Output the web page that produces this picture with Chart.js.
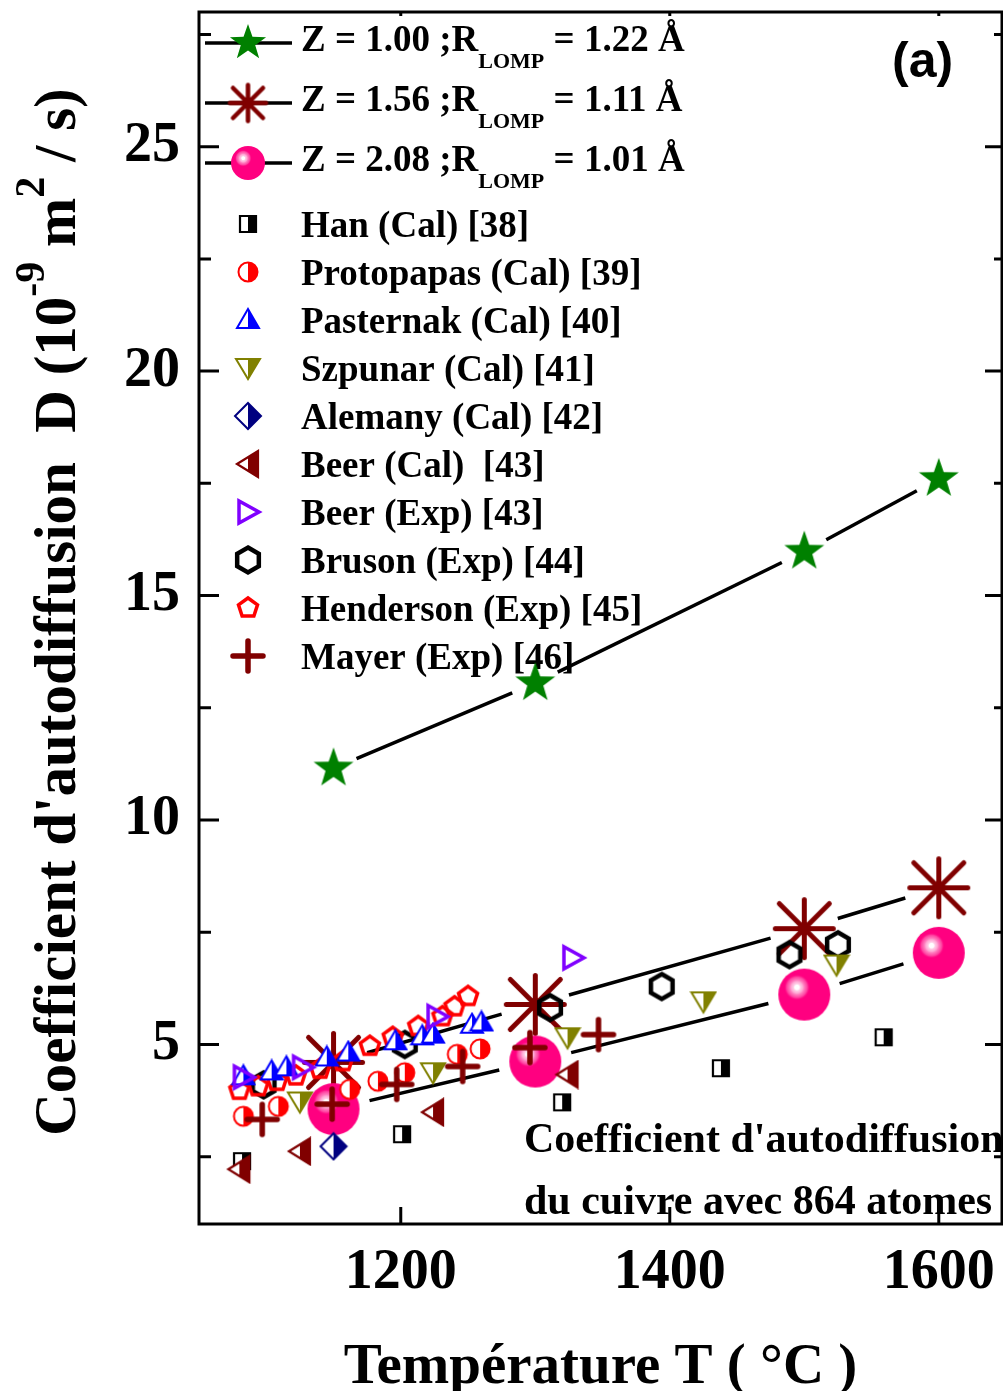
<!DOCTYPE html>
<html>
<head>
<meta charset="utf-8">
<script src="https://cdn.jsdelivr.net/npm/chart.js@4.4.0/dist/chart.umd.min.js"></script>
<style>
  html, body { margin: 0; padding: 0; background: #fff; overflow: hidden; }
  #wrap { width: 1003px; height: 1391px; }
</style>
</head>
<body>
<div id="wrap"><canvas id="diffChart" width="1003" height="1391"></canvas></div>
<script>
// axes
const xTicks = [1200, 1400, 1600];
const yTicks = [5, 10, 15, 20, 25];
const yMinorTicks = [2.5, 7.5, 12.5, 17.5, 22.5, 27.5];

// simulation (T in °C, D in 1e-9 m2/s)
const simT = [1150, 1300, 1500, 1600];
const dZ100 = [11.15, 13.05, 15.98, 17.6];
const dZ156 = [4.6, 5.89, 7.58, 8.49];
const dZ208 = [3.56, 4.62, 6.11, 7.04];
const zLabels = ['1.00', '1.56', '2.08'];
const rLabels = ['1.22', '1.11', '1.01'];

// literature
const hanT = [1082, 1201, 1320, 1438, 1559];
const hanD = [2.4, 3.0, 3.71, 4.47, 5.16];
const protoT = [1083, 1109, 1162, 1183, 1203, 1242, 1259];
const protoD = [3.4, 3.62, 4.0, 4.18, 4.37, 4.78, 4.9];
const pastT = [1083, 1104, 1115, 1145, 1161, 1196, 1216, 1224, 1253, 1260];
const pastD = [4.29, 4.4, 4.49, 4.71, 4.82, 5.07, 5.18, 5.22, 5.44, 5.49];
const szpT = [1125, 1224, 1324, 1425, 1524];
const szpD = [3.73, 4.38, 5.16, 5.96, 6.78];
const alemT = [1150];
const alemD = [2.73];
const beerCalT = [1080, 1125, 1224, 1324];
const beerCalD = [2.22, 2.62, 3.49, 4.33];
const beerExpT = [1083, 1127, 1227, 1328];
const beerExpD = [4.27, 4.49, 5.62, 6.93];
const brusT = [1098, 1203, 1311, 1394, 1489, 1525];
const brusD = [4.1, 5.0, 5.82, 6.29, 7.0, 7.22];
const hendT = [1080, 1094, 1108, 1122, 1140, 1157, 1177, 1194, 1213, 1231, 1240, 1250];
const hendD = [3.98, 4.06, 4.18, 4.3, 4.45, 4.62, 4.96, 5.16, 5.4, 5.62, 5.84, 6.07];
const mayerT = [1097, 1149, 1197, 1246, 1296, 1347];
const mayerD = [3.33, 3.67, 4.11, 4.51, 4.93, 5.22];

const refLabels = [
  'Han (Cal) [38]', 'Protopapas (Cal) [39]', 'Pasternak (Cal) [40]', 'Szpunar (Cal) [41]',
  'Alemany (Cal) [42]', 'Beer (Cal)  [43]', 'Beer (Exp) [43]', 'Bruson (Exp) [44]',
  'Henderson (Exp) [45]', 'Mayer (Exp) [46]'
];

const SERIF = '"Liberation Serif", "Times New Roman", serif';

// ---- marker images ----
function makeCanvas(w, h, draw) {
  const c = document.createElement('canvas');
  c.width = w; c.height = h;
  const g = c.getContext('2d');
  g.translate(w / 2, h / 2);
  draw(g);
  return c;
}

function poly(pts) {
  return g => {
    g.beginPath();
    pts.forEach((p, i) => i ? g.lineTo(p[0], p[1]) : g.moveTo(p[0], p[1]));
    g.closePath();
  };
}

function halfMarker(size, color, path, lw) {
  return makeCanvas(size, size, g => {
    path(g); g.fillStyle = '#fff'; g.fill();
    g.save();
    g.beginPath(); g.rect(0, -size / 2, size / 2, size); g.clip();
    path(g); g.fillStyle = color; g.fill();
    g.restore();
    path(g); g.strokeStyle = color; g.lineWidth = lw; g.stroke();
  });
}

function openMarker(size, color, path, lw) {
  return makeCanvas(size, size, g => {
    path(g); g.strokeStyle = color; g.lineWidth = lw; g.lineJoin = 'miter'; g.stroke();
  });
}

function regular(n, r, rot) {
  const pts = [];
  for (let k = 0; k < n; k++) {
    const a = rot + k * 2 * Math.PI / n;
    pts.push([r * Math.cos(a), r * Math.sin(a)]);
  }
  return poly(pts);
}

function starMarker(r) {
  const pts = [];
  for (let k = 0; k < 10; k++) {
    const a = -Math.PI / 2 + k * Math.PI / 5;
    const rr = k % 2 ? r * 0.4 : r;
    pts.push([rr * Math.cos(a), rr * Math.sin(a)]);
  }
  const size = Math.ceil(r * 2 + 4);
  return makeCanvas(size, size, g => { poly(pts)(g); g.fillStyle = '#008000'; g.fill(); });
}

function asteriskMarker(orth, diag, lw) {
  const size = Math.ceil(orth * 2 + lw + 4);
  return makeCanvas(size, size, g => {
    g.strokeStyle = '#800000'; g.lineWidth = lw; g.lineCap = 'round';
    g.beginPath();
    g.moveTo(-orth, 0); g.lineTo(orth, 0);
    g.moveTo(0, -orth); g.lineTo(0, orth);
    g.moveTo(-diag, -diag); g.lineTo(diag, diag);
    g.moveTo(-diag, diag); g.lineTo(diag, -diag);
    g.stroke();
  });
}

function ballMarker(r) {
  const size = Math.ceil(r * 2 + 4);
  return makeCanvas(size, size, g => {
    g.beginPath(); g.arc(0, 0, r, 0, Math.PI * 2);
    g.fillStyle = '#ff0080'; g.fill();
    const hx = -r * 0.28, hy = -r * 0.28, hr = r * 0.5;
    const grad = g.createRadialGradient(hx, hy, 0, hx, hy, hr);
    grad.addColorStop(0, '#ffffff');
    grad.addColorStop(0.18, '#ffffff');
    grad.addColorStop(0.26, '#ffd0e8');
    grad.addColorStop(0.45, '#ffa8d4');
    grad.addColorStop(0.55, '#ff80c0');
    grad.addColorStop(0.8, '#ff40a0');
    grad.addColorStop(1, 'rgba(255,0,128,0)');
    g.beginPath(); g.arc(hx, hy, hr, 0, Math.PI * 2);
    g.fillStyle = grad; g.fill();
  });
}

function plusMarker(h, lw) {
  const size = Math.ceil(h * 2 + lw + 2);
  return makeCanvas(size, size, g => {
    g.strokeStyle = '#800000'; g.lineWidth = lw; g.lineCap = 'round';
    g.beginPath();
    g.moveTo(-h, 0); g.lineTo(h, 0);
    g.moveTo(0, -h); g.lineTo(0, h);
    g.stroke();
  });
}

const mk = {
  star: starMarker(21), starLeg: starMarker(19),
  aster: asteriskMarker(29, 25, 5), asterLeg: asteriskMarker(18, 15, 4.5),
  ball: ballMarker(26), ballLeg: ballMarker(17),
  han: halfMarker(22, '#000000', g => { g.beginPath(); g.rect(-8, -8, 16, 16); }, 2.2),
  proto: halfMarker(24, '#ff0000', g => { g.beginPath(); g.arc(0, 0, 9.5, 0, Math.PI * 2); }, 2),
  past: halfMarker(26, '#0000ff', poly([[0, -11], [11, 8], [-11, 8]]), 2),
  szp: halfMarker(28, '#808000', poly([[-12, -9], [12, -9], [0, 11]]), 2),
  alem: halfMarker(30, '#000080', poly([[0, -13], [13, 0], [0, 13], [-13, 0]]), 2),
  beerCal: halfMarker(30, '#800000', poly([[-11, 0], [10, -13], [10, 13]]), 2.2),
  beerExp: openMarker(30, '#8000ff', poly([[-9, -11], [-9, 11], [11, 0]]), 3.5),
  brus: openMarker(34, '#000000', regular(6, 12.5, -Math.PI / 2), 4.5),
  hend: openMarker(28, '#ff0000', regular(5, 10, -Math.PI / 2), 3.5),
  mayer: plusMarker(15, 5.5)
};

function pts(T, D) { return T.map((t, i) => ({ x: t, y: D[i] })); }

function ds(T, D, img, order, extra) {
  return Object.assign({
    data: pts(T, D), pointStyle: img, pointRadius: 2, pointHoverRadius: 2,
    showLine: false, order: order
  }, extra || {});
}

const datasets = [
  ds(simT, dZ100, mk.star, 30, { gap: 25, legendImg: mk.starLeg }),
  ds(simT, dZ156, mk.aster, 29, { gap: 35, legendImg: mk.asterLeg }),
  ds(simT, dZ208, mk.ball, 28, { gap: 37, legendImg: mk.ballLeg }),
  ds(hanT, hanD, mk.han, 20),
  ds(protoT, protoD, mk.proto, 12),
  ds(pastT, pastD, mk.past, 5),
  ds(szpT, szpD, mk.szp, 8),
  ds(alemT, alemD, mk.alem, 19),
  ds(beerCalT, beerCalD, mk.beerCal, 18),
  ds(beerExpT, beerExpD, mk.beerExp, 3),
  ds(brusT, brusD, mk.brus, 16),
  ds(hendT, hendD, mk.hend, 14),
  ds(mayerT, mayerD, mk.mayer, 1)
];

function richText(ctx, parts, x, y) {
  let total = 0;
  parts.forEach(p => { ctx.font = p[1]; total += ctx.measureText(p[0]).width; });
  let cx = x - total / 2;
  parts.forEach(p => {
    ctx.font = p[1];
    ctx.fillText(p[0], cx, y + p[2]);
    cx += ctx.measureText(p[0]).width;
  });
}

const originPlugin = {
  id: 'originStyle',
  beforeDatasetsDraw(chart) {
    const { ctx, scales: { x, y } } = chart;
    ctx.save();
    ctx.fillStyle = '#000';
    ctx.textAlign = 'left';
    ctx.textBaseline = 'alphabetic';

    // legend: simulation rows
    const legX = 248, txtX = 301;
    for (let i = 0; i < 3; i++) {
      const cy = 43 + i * 60;
      ctx.strokeStyle = '#000'; ctx.lineWidth = 3.5;
      ctx.beginPath(); ctx.moveTo(205, cy); ctx.lineTo(292, cy); ctx.stroke();
      const img = chart.data.datasets[i].legendImg;
      ctx.drawImage(img, legX - img.width / 2, cy - img.height / 2);
      const base = cy + 8;
      let cx = txtX;
      ctx.font = 'bold 37px ' + SERIF;
      const a = 'Z = ' + zLabels[i] + ' ;R';
      ctx.fillText(a, cx, base); cx += ctx.measureText(a).width;
      ctx.font = 'bold 22px ' + SERIF;
      ctx.fillText('LOMP', cx, base + 17); cx += ctx.measureText('LOMP').width;
      ctx.font = 'bold 37px ' + SERIF;
      ctx.fillText(' = ' + rLabels[i] + ' \u00C5', cx, base);
    }
    // legend: reference rows
    ctx.font = 'bold 37px ' + SERIF;
    refLabels.forEach((lab, k) => {
      const cy = 224 + k * 48;
      const img = chart.data.datasets[k + 3].pointStyle;
      ctx.drawImage(img, legX - img.width / 2, cy - img.height / 2);
      ctx.fillText(lab, txtX, cy + 13);
    });

    // connecting lines with gaps around the markers
    ctx.strokeStyle = '#000'; ctx.lineWidth = 3.5; ctx.lineCap = 'butt';
    chart.data.datasets.forEach(d => {
      if (!d.gap) return;
      const p = d.data.map(v => [x.getPixelForValue(v.x), y.getPixelForValue(v.y)]);
      for (let k = 0; k < p.length - 1; k++) {
        const [x0, y0] = p[k], [x1, y1] = p[k + 1];
        const len = Math.hypot(x1 - x0, y1 - y0);
        const ux = (x1 - x0) / len, uy = (y1 - y0) / len;
        ctx.beginPath();
        ctx.moveTo(x0 + ux * d.gap, y0 + uy * d.gap);
        ctx.lineTo(x1 - ux * d.gap, y1 - uy * d.gap);
        ctx.stroke();
      }
    });
    ctx.restore();
  },
  afterDraw(chart) {
    const { ctx, chartArea: a, scales: { x, y } } = chart;
    ctx.save();
    ctx.strokeStyle = '#000'; ctx.fillStyle = '#000';
    ctx.lineWidth = 3;
    ctx.lineCap = 'butt';
    // frame
    ctx.strokeRect(a.left, a.top, a.right - a.left, a.bottom - a.top);
    // ticks (inside, both sides)
    ctx.beginPath();
    yTicks.forEach(v => {
      const py = y.getPixelForValue(v);
      ctx.moveTo(a.left, py); ctx.lineTo(a.left + 20, py);
      ctx.moveTo(a.right, py); ctx.lineTo(a.right - 17, py);
    });
    yMinorTicks.forEach(v => {
      const py = y.getPixelForValue(v);
      ctx.moveTo(a.left, py); ctx.lineTo(a.left + 12, py);
      ctx.moveTo(a.right, py); ctx.lineTo(a.right - 8, py);
    });
    xTicks.forEach(v => {
      const px = x.getPixelForValue(v);
      ctx.moveTo(px, a.bottom); ctx.lineTo(px, a.bottom - 17);
      ctx.moveTo(px, a.top); ctx.lineTo(px, a.top + 4);
    });
    ctx.stroke();

    // axis titles
    ctx.textAlign = 'left';
    ctx.textBaseline = 'alphabetic';
    const big = 'bold 57px ' + SERIF;
    richText(ctx, [['Temp\u00E9rature T ( \u00B0C )', big, 0]], (a.left + a.right) / 2, 1383);
    const ybig = 'bold 59px ' + SERIF, sup = 'bold 42px ' + SERIF;
    ctx.save();
    ctx.translate(75, 612);
    ctx.rotate(-Math.PI / 2);
    richText(ctx, [
      ["Coefficient d'autodiffusion  D (10", ybig, 0],
      ['-9', sup, -31],
      [' m', ybig, 0],
      ['2', sup, -31],
      [' / s)', ybig, 0]
    ], 0, 0);
    ctx.restore();

    // annotation
    ctx.font = 'bold 42px ' + SERIF;
    ctx.fillText("Coefficient d'autodiffusion", 524, 1152);
    ctx.fillText('du cuivre avec 864 atomes', 524, 1214);
    ctx.font = 'bold 50px "Liberation Sans", Arial, sans-serif';
    ctx.fillText('(a)', 892, 77);
    ctx.restore();
  }
};

const tickFont = { family: SERIF, size: 56, weight: 'bold' };

new Chart(document.getElementById('diffChart'), {
  type: 'scatter',
  data: { datasets: datasets },
  options: {
    responsive: false,
    animation: false,
    events: [],
    layout: { autoPadding: false, padding: { top: 12, right: 1, left: 0, bottom: 0 } },
    plugins: { legend: { display: false }, tooltip: { enabled: false } },
    scales: {
      x: {
        type: 'linear', position: 'bottom', min: 1050, max: 1647,
        grid: { display: false, drawTicks: false },
        border: { display: false },
        ticks: { font: tickFont, color: '#000', padding: 16, maxRotation: 0, autoSkip: false,
                 callback: v => String(v) },
        afterBuildTicks: s => { s.ticks = xTicks.map(v => ({ value: v })); },
        afterFit: s => { s.height = 167; s.paddingLeft = 0; s.paddingRight = 0; }
      },
      y: {
        type: 'linear', position: 'left', min: 1, max: 28,
        grid: { display: false, drawTicks: false },
        border: { display: false },
        ticks: { font: tickFont, color: '#000', padding: 19, autoSkip: false,
                 callback: v => String(v) },
        afterBuildTicks: s => { s.ticks = yTicks.map(v => ({ value: v })); },
        afterFit: s => { s.width = 199; s.paddingTop = 0; s.paddingBottom = 0; }
      }
    }
  },
  plugins: [originPlugin]
});
</script>
</body>
</html>
